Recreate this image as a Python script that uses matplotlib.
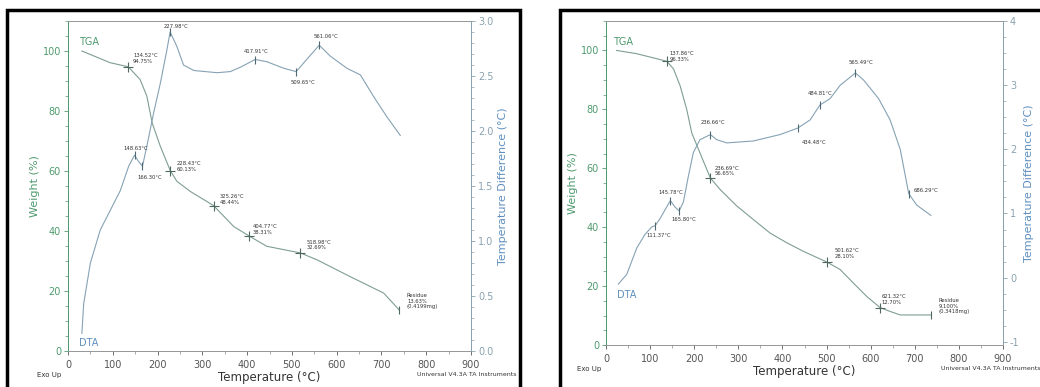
import matplotlib.pyplot as plt
import numpy as np
from matplotlib.patches import Rectangle
from matplotlib.ticker import MultipleLocator

# ---- left sample ----
tga1_t = [31, 94, 134.5, 161, 176, 188, 206, 228.4, 243, 273, 325.3, 370, 404.8, 444, 519, 556, 630, 705, 740]
tga1_w = [100, 96.1, 94.75, 90.5, 85, 76, 68.3, 60.13, 56.6, 53.2, 48.44, 41.5, 38.31, 34.9, 32.69, 30.4, 24.8, 19.3, 13.63]
dta1_t = [31, 35, 50, 72, 94.5, 117, 135.5, 148.6, 158, 166.3, 176, 191, 206, 221, 228, 243, 258, 281, 333,
          362.5, 385, 417.9, 444, 482, 509.7, 533, 561.1, 586, 623, 653, 683, 712, 742]
dta1_d = [0.16, 0.43, 0.8, 1.1, 1.28, 1.46, 1.68, 1.78, 1.72, 1.68, 1.86, 2.16, 2.43, 2.74, 2.9, 2.77, 2.6, 2.55, 2.53,
          2.54, 2.58, 2.65, 2.63, 2.57, 2.54, 2.65, 2.78, 2.68, 2.57, 2.51, 2.31, 2.13, 1.96]
tga1_mark_t = [134.52, 228.43, 325.26, 404.77, 518.98]
tga1_mark_w = [94.75, 60.13, 48.44, 38.31, 32.69]
dta1_mark_t = [148.63, 166.30, 227.98, 417.91, 509.65, 561.06]
dta1_mark_d = [1.78, 1.68, 2.9, 2.65, 2.54, 2.78]
res1 = (740, 13.63, "Residue\n13.63%\n(0.4199mg)")

# ---- right sample ----
tga2_t = [24, 69.6, 137.9, 153, 168, 183, 194.4, 209.5, 236.7, 258.7, 296.5, 334, 372, 410, 447.5, 501.6, 531,
          561, 591, 621.3, 644, 667, 737]
tga2_w = [100, 98.9, 96.33, 93.75, 88, 80, 72, 66.5, 56.65, 52.8, 47.2, 42.6, 38, 34.7, 31.8, 28.1, 25.6,
          21, 16.5, 12.7, 11.4, 10.2, 10.2]
dta2_t = [28, 47, 69.6, 88, 103.6, 111.4, 122.5, 145.8, 156.5, 165.8, 175.5, 187, 198, 213, 236.7, 251, 273.8,
          334, 394.6, 434.5, 463, 484.8, 508, 531, 565.5, 584, 618, 644, 667, 686.3, 704.5, 736.5]
dta2_d = [-0.10, 0.05, 0.46, 0.67, 0.79, 0.81, 0.92, 1.2, 1.10, 1.04, 1.18, 1.59, 1.95, 2.15, 2.23, 2.15, 2.10,
          2.13, 2.23, 2.33, 2.46, 2.69, 2.79, 3.0, 3.19, 3.08, 2.79, 2.46, 2.0, 1.31, 1.13, 0.97]
tga2_mark_t = [137.86, 236.69, 501.62, 621.32]
tga2_mark_w = [96.33, 56.65, 28.10, 12.70]
dta2_mark_t = [111.37, 145.78, 165.80, 236.66, 434.48, 484.81, 565.49, 686.29]
dta2_mark_d = [0.81, 1.2, 1.04, 2.23, 2.33, 2.69, 3.19, 1.31]
res2 = (737, 10.2, "Residue\n9.100%\n(0.3418mg)")

# annotation text: (x, y, text, which axis)
notes1 = [(145, 97.5, "134.52°C\n94.75%", "w"), (213, 2.95, "227.98°C", "d"), (392, 2.72, "417.91°C", "d"),
          (497, 2.44, "509.65°C", "d"), (549, 2.86, "561.06°C", "d"), (124, 1.84, "148.63°C", "d"),
          (154, 1.58, "166.30°C", "d"), (243, 61.5, "228.43°C\n60.13%", "w"), (339, 50.5, "325.26°C\n48.44%", "w"),
          (413, 40.5, "404.77°C\n38.31%", "w"), (532, 35.3, "518.98°C\n32.69%", "w")]
notes2 = [(144, 98, "137.86°C\n96.33%", "w"), (215, 2.42, "236.66°C", "d"), (444, 2.1, "434.48°C", "d"),
          (457, 2.87, "484.81°C", "d"), (550, 3.35, "565.49°C", "d"), (697, 1.36, "686.29°C", "d"),
          (247, 59, "236.69°C\n56.65%", "w"), (119, 1.32, "145.78°C", "d"), (149, 0.9, "165.80°C", "d"),
          (92, 0.66, "111.37°C", "d"), (518, 31, "501.62°C\n28.10%", "w"), (625, 15.5, "621.32°C\n12.70%", "w")]

green = '#4f9a6e'
blue = '#5f8fbf'
line_c = '#7f9e90'
dta_c = '#86a2b4'
spine_r = '#8aa2b0'

fig = plt.figure(figsize=(10.4, 3.87), dpi=100)
fig.patch.set_facecolor('white')

# black frames of the scanned pictures
fig.add_artist(Rectangle((7 / 1040, -0.05), 513 / 1040, 1 - 10 / 387 + 0.05, transform=fig.transFigure,
                         fill=False, ec='black', lw=2.5))
fig.add_artist(Rectangle((560 / 1040, -0.05), 500 / 1040, 1 - 10 / 387 + 0.05, transform=fig.transFigure,
                         fill=False, ec='black', lw=2.5))


def draw(rect, tga_t, tga_w, dta_t, dta_d, mt, mw, dt, dd, res, notes, dlim, dmajor, dminor, dfmt,
         tga_lab, dta_lab):
    ax = fig.add_axes(rect)
    ax2 = ax.twinx()
    ax.plot(tga_t, tga_w, color=line_c, lw=0.8)
    ax.plot(mt, mw, ls='none', marker='+', ms=7, mew=0.8, color='#506860')
    ax.plot([res[0]], [res[1]], ls='none', marker='|', ms=6, mew=0.8, color='#506860')
    ax2.plot(dta_t, dta_d, color=dta_c, lw=0.8)
    ax2.plot(dt, dd, ls='none', marker='|', ms=6, mew=0.8, color='#506870')
    ax.text(res[0] + 17, res[1] + 3, res[2], fontsize=3.8, va='center', ha='left', color='#333333',
            linespacing=1.1)
    for x, y, s, k in notes:
        a = ax if k == 'w' else ax2
        a.text(x, y, s, fontsize=3.8, va='center', ha='left', color='#333333', linespacing=1.1)
    ax.text(tga_lab[0], tga_lab[1], "TGA", color=green, fontsize=7)
    ax.text(dta_lab[0], dta_lab[1], "DTA", color=blue, fontsize=7)

    ax.set_xlim(0, 900)
    ax.set_ylim(0, 110)
    ax2.set_ylim(*dlim)
    ax.xaxis.set_major_locator(MultipleLocator(100))
    ax.xaxis.set_minor_locator(MultipleLocator(50))
    ax.yaxis.set_major_locator(MultipleLocator(20))
    ax.yaxis.set_minor_locator(MultipleLocator(5))
    ax2.yaxis.set_major_locator(MultipleLocator(dmajor))
    ax2.yaxis.set_minor_locator(MultipleLocator(dminor))
    ax2.yaxis.set_major_formatter(plt.FormatStrFormatter(dfmt))
    ax.tick_params(axis='x', labelsize=7, colors='#555555', length=3, width=0.6)
    ax.tick_params(axis='x', which='minor', length=2, width=0.5, colors='#888888')
    ax.tick_params(axis='y', labelsize=7, colors=green, length=3, width=0.6, pad=2)
    ax.tick_params(axis='y', which='minor', length=2, width=0.5, colors=green)
    ax2.tick_params(axis='y', labelsize=7, colors=spine_r, length=3, width=0.6, pad=2)
    ax2.tick_params(axis='y', which='minor', length=2, width=0.5, colors=spine_r)
    for a in (ax, ax2):
        a.spines['left'].set_color(green)
        a.spines['right'].set_color(spine_r)
        a.spines['top'].set_color('#999999')
        a.spines['bottom'].set_color('#999999')
        for sp in a.spines.values():
            sp.set_linewidth(0.7)
    ax.set_xlabel("Temperature (°C)", fontsize=8.5, color='#333333', labelpad=1)
    ax.set_ylabel("Weight (%)", fontsize=8, color=green, labelpad=2)
    ax2.set_ylabel("Temperature Difference (°C)", fontsize=8, color=blue, labelpad=3)
    return ax


draw([68 / 1040, 36 / 387, 403 / 1040, 330 / 387], tga1_t, tga1_w, dta1_t, dta1_d,
     tga1_mark_t, tga1_mark_w, dta1_mark_t, dta1_mark_d, res1, notes1, (0, 3), 0.5, 0.1, '%.1f',
     (24, 102), (24, 1.5))
draw([606 / 1040, 42 / 387, 397 / 1040, 324 / 387], tga2_t, tga2_w, dta2_t, dta2_d,
     tga2_mark_t, tga2_mark_w, dta2_mark_t, dta2_mark_d, res2, notes2, (-1.05, 4), 1, 0.25, '%d',
     (17, 102), (24, 16))

fig.text(37 / 1040, 1 - 375 / 387, "Exo Up", fontsize=5, color='#333333', va='center')
fig.text(417 / 1040, 1 - 374 / 387, "Universal V4.3A TA Instruments", fontsize=4.5, color='#333333', va='center')
fig.text(577 / 1040, 1 - 369 / 387, "Exo Up", fontsize=5, color='#333333', va='center')
fig.text(941 / 1040, 1 - 369 / 387, "Universal V4.3A TA Instruments", fontsize=4.5, color='#333333', va='center')

fig.savefig("out.png", dpi=100, facecolor='white')
